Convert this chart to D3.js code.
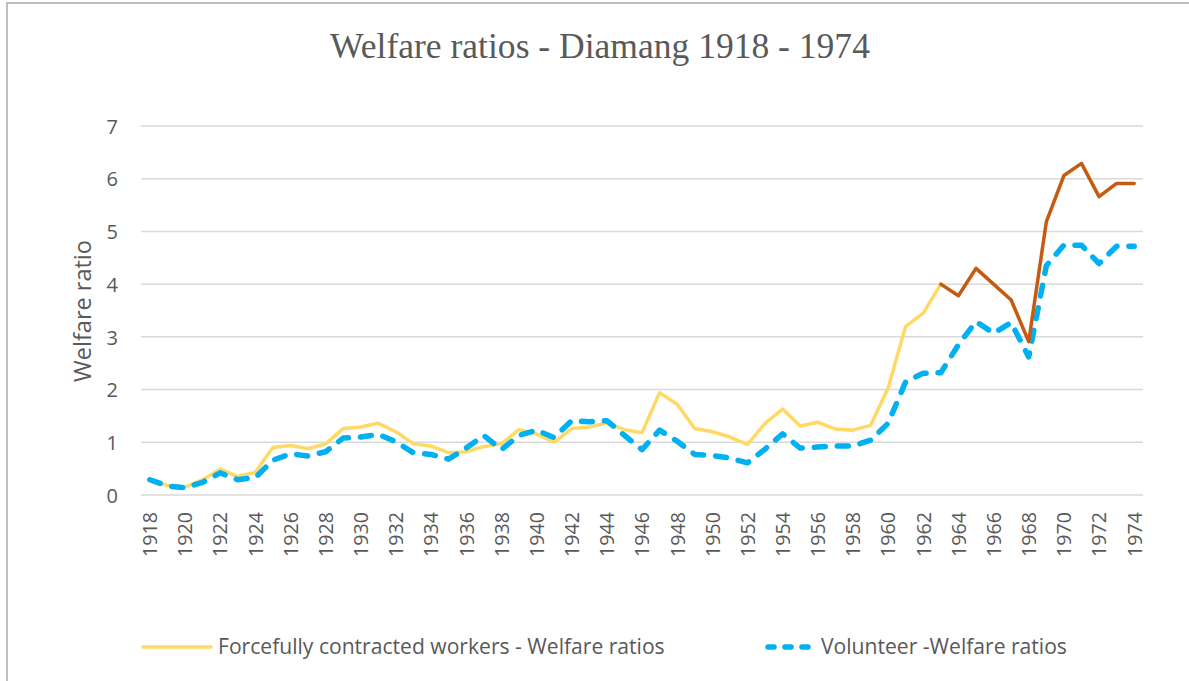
<!DOCTYPE html>
<html>
<head>
<meta charset="utf-8">
<script src="https://cdn.jsdelivr.net/npm/d3@7/dist/d3.min.js"></script>
<style>
  html, body { margin: 0; padding: 0; background: #ffffff; }
  svg { display: block; }
</style>
</head>
<body>
<svg id="chart" width="1189" height="681"></svg>
<script>
const years = d3.range(1918, 1975);
const forcedValues = [
  0.29, 0.18, 0.15, 0.29, 0.49, 0.35, 0.43, 0.90, 0.94, 0.88,
  0.97, 1.26, 1.29, 1.36, 1.20, 0.97, 0.93, 0.80, 0.82, 0.92,
  0.97, 1.24, 1.16, 1.00, 1.26, 1.29, 1.37, 1.24, 1.18, 1.94,
  1.72, 1.26, 1.20, 1.10, 0.96, 1.36, 1.63, 1.31, 1.38, 1.25,
  1.23, 1.32, 2.03, 3.20, 3.45, 4.00, 3.78, 4.30, 4.00, 3.70,
  2.91, 5.18, 6.06, 6.29, 5.66, 5.91, 5.91
];
const volunteerValues = [
  0.29, 0.17, 0.14, 0.24, 0.42, 0.29, 0.33, 0.66, 0.78, 0.74,
  0.82, 1.08, 1.10, 1.15, 1.01, 0.80, 0.77, 0.68, 0.89, 1.13,
  0.86, 1.13, 1.23, 1.09, 1.41, 1.39, 1.41, 1.13, 0.86, 1.23,
  1.02, 0.77, 0.75, 0.70, 0.61, 0.87, 1.16, 0.89, 0.91, 0.93,
  0.93, 1.04, 1.36, 2.15, 2.31, 2.32, 2.85, 3.29, 3.07, 3.27,
  2.62, 4.35, 4.74, 4.74, 4.39, 4.72, 4.72
];
const highlightFromYear = 1963;
const yTicks = [0, 1, 2, 3, 4, 5, 6, 7];
const xTickLabels = years.filter(y => (y - 1918) % 2 === 0);
const seriesNames = ["Forcefully contracted workers - Welfare ratios", "Volunteer -Welfare ratios"];
const titleText = "Welfare ratios - Diamang 1918 - 1974";
const yAxisTitle = "Welfare ratio";

const colYellow = "#FFD966", colOrange = "#C55A11", colBlue = "#00B0F0", colText = "#595959", colGrid = "#D9D9D9";
const sans = "'Open Sans', 'Noto Sans', sans-serif";

const svg = d3.select("#chart");
svg.append("rect").attr("x", 0).attr("y", 0).attr("width", 1189).attr("height", 681).attr("fill", "#fff");
svg.append("rect").attr("x", 7).attr("y", 3).attr("width", 1300).attr("height", 800)
  .attr("fill", "none").attr("stroke", "#ABABAB").attr("stroke-width", 1.5);

const plot = { left: 141, right: 1143, top: 126, bottom: 495 };
const x = d3.scalePoint().domain(years).range([plot.left, plot.right]).padding(0.5);
const y = d3.scaleLinear().domain([0, 7]).range([plot.bottom, plot.top]);

function fit(sel, target) {
  const base = 20;
  sel.style("font-size", base + "px");
  const w = sel.node().getComputedTextLength();
  sel.style("font-size", (base * target / w) + "px");
}

// gridlines
svg.append("g").selectAll("line").data(yTicks).join("line")
  .attr("x1", plot.left).attr("x2", plot.right)
  .attr("y1", d => y(d)).attr("y2", d => y(d))
  .attr("stroke", colGrid).attr("stroke-width", 1.5);

// y axis (labels only)
const yAxis = svg.append("g").attr("transform", `translate(${plot.left - 23},0)`)
  .call(d3.axisLeft(y).tickValues(yTicks).tickSize(0).tickPadding(0).tickFormat(d3.format("d")));
yAxis.select(".domain").remove();
yAxis.selectAll("text").attr("fill", colText).style("font-family", sans).style("font-size", "20px").attr("dy", "0.36em");

// x axis labels
const xAxis = svg.append("g").attr("transform", `translate(0,${plot.bottom})`)
  .call(d3.axisBottom(x).tickValues(xTickLabels).tickSize(0).tickPadding(0));
xAxis.select(".domain").remove();
const xt = xAxis.selectAll("text");
xt.attr("fill", colText).style("font-family", sans)
  .attr("transform", "translate(0,17) rotate(-90)")
  .attr("text-anchor", "end").attr("dy", "0.35em").attr("y", 0).attr("x", 0);
fit(d3.select(xt.nodes()[0]), 45);
xt.style("font-size", d3.select(xt.nodes()[0]).style("font-size"));

// lines
const line = d3.line().x(d => x(d.year)).y(d => y(d.v));
const forced = years.map((yr, i) => ({ year: yr, v: forcedValues[i] }));
const vol = years.map((yr, i) => ({ year: yr, v: volunteerValues[i] }));

svg.append("path").datum(forced.filter(d => d.year <= highlightFromYear))
  .attr("d", line).attr("fill", "none").attr("stroke", colYellow).attr("stroke-width", 3.5)
  .attr("stroke-linejoin", "round").attr("stroke-linecap", "round");
svg.append("path").datum(vol)
  .attr("d", line).attr("fill", "none").attr("stroke", colBlue).attr("stroke-width", 5.5)
  .attr("stroke-dasharray", "11,12").attr("stroke-linecap", "round").attr("stroke-linejoin", "round");
svg.append("path").datum(forced.filter(d => d.year >= highlightFromYear))
  .attr("d", line).attr("fill", "none").attr("stroke", colOrange).attr("stroke-width", 3.5)
  .attr("stroke-linejoin", "round").attr("stroke-linecap", "round");

// title
const t = svg.append("text").attr("x", 600).attr("y", 58).attr("text-anchor", "middle")
  .attr("fill", colText).style("font-family", "'Liberation Serif', 'DejaVu Serif', serif").text(titleText);
fit(t, 540);

// y axis title
const yt = svg.append("text").attr("transform", "translate(83,311) rotate(-90)")
  .attr("text-anchor", "middle").attr("dy", "0.35em").attr("fill", colText)
  .style("font-family", sans).text(yAxisTitle);
fit(yt, 142);

// legend
const lg = svg.append("g");
lg.append("line").attr("x1", 143).attr("x2", 211).attr("y1", 647).attr("y2", 647)
  .attr("stroke", colYellow).attr("stroke-width", 3.5).attr("stroke-linecap", "round");
const l1 = lg.append("text").attr("x", 218).attr("y", 647).attr("dy", "0.35em").attr("fill", colText)
  .style("font-family", sans).text(seriesNames[0]);
fit(l1, 447);
lg.append("line").attr("x1", 768).attr("x2", 808).attr("y1", 647).attr("y2", 647)
  .attr("stroke", colBlue).attr("stroke-width", 5.5).attr("stroke-dasharray", "6,11").attr("stroke-linecap", "round");
const l2 = lg.append("text").attr("x", 821).attr("y", 647).attr("dy", "0.35em").attr("fill", colText)
  .style("font-family", sans).text(seriesNames[1]);
l2.style("font-size", l1.style("font-size"));
</script>
</body>
</html>
